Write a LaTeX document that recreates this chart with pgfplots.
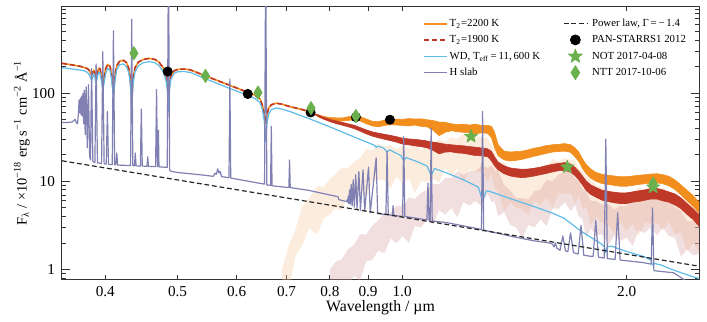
\documentclass[border=0pt]{standalone}
\usepackage{fontspec}
\setmainfont{Liberation Serif}
\usepackage{pgfplots}
\pgfplotsset{compat=1.18}

\definecolor{corange}{RGB}{242,142,30}
\definecolor{cred}{RGB}{192,56,40}
\definecolor{cblue}{RGB}{95,188,232}
\definecolor{cslab}{RGB}{128,128,178}
\definecolor{cgreen}{RGB}{106,176,76}
\definecolor{cpeach}{RGB}{247,196,150}
\definecolor{cpink}{RGB}{214,160,160}

\pgfdeclareplotmark{fstar}{%
 \pgfpathmoveto{\pgfqpointpolar{90}{\pgfplotmarksize}}%
 \pgfpathlineto{\pgfqpointpolar{126}{0.42\pgfplotmarksize}}%
 \pgfpathlineto{\pgfqpointpolar{162}{\pgfplotmarksize}}%
 \pgfpathlineto{\pgfqpointpolar{198}{0.42\pgfplotmarksize}}%
 \pgfpathlineto{\pgfqpointpolar{234}{\pgfplotmarksize}}%
 \pgfpathlineto{\pgfqpointpolar{270}{0.42\pgfplotmarksize}}%
 \pgfpathlineto{\pgfqpointpolar{306}{\pgfplotmarksize}}%
 \pgfpathlineto{\pgfqpointpolar{342}{0.42\pgfplotmarksize}}%
 \pgfpathlineto{\pgfqpointpolar{18}{\pgfplotmarksize}}%
 \pgfpathlineto{\pgfqpointpolar{54}{0.42\pgfplotmarksize}}%
 \pgfpathclose\pgfusepathqfillstroke}
\pgfdeclareplotmark{tdiamond}{%
 \pgfpathmoveto{\pgfqpoint{0pt}{\pgfplotmarksize}}%
 \pgfpathlineto{\pgfqpoint{0.62\pgfplotmarksize}{0pt}}%
 \pgfpathlineto{\pgfqpoint{0pt}{-\pgfplotmarksize}}%
 \pgfpathlineto{\pgfqpoint{-0.62\pgfplotmarksize}{0pt}}%
 \pgfpathclose\pgfusepathqfillstroke}

\pgfplotsset{
  lineleg/.style={legend image code/.code={\draw[##1] (0pt,0pt) -- (11.5pt,0pt);}},
  markleg/.style={legend image code/.code={\draw[##1] plot coordinates {(5.75pt,0pt)};}},
}
\newcommand{\cw}[1]{\makebox[56pt][l]{#1}}
\newcommand{\cv}[1]{\hspace{1.5pt}#1}

\begin{document}
\begin{tikzpicture}
\begin{axis}[
  scale only axis, width=318.5pt, height=136pt,
  xmode=log, ymode=log,
  xmin=0.35, xmax=2.5, ymin=0.78, ymax=950,
  xtick={0.4,0.5,0.6,0.7,0.8,0.9,2},
  xticklabels={0.4,0.5,0.6,0.7,0.8,0.9,2.0},
  extra x ticks={1}, extra x tick labels={1.0},
  minor x tick num=0,
  ytick={1,10,100}, yticklabels={1,10,100},
  minor ytick={0.8,0.9,2,3,4,5,6,7,8,9,20,30,40,50,60,70,80,90,200,300,400,500,600,700,800,900},
  tick align=inside,
  xtick style={/pgfplots/major tick length=2.2pt},
  extra x tick style={/pgfplots/major tick length=4.8pt},
  ytick style={/pgfplots/major tick length=3.8pt},
  minor tick length=2.2pt,
  axis line style={black!80, line width=0.5pt},
  every tick/.style={black!80, line width=0.4pt},
  /pgf/number format/assume math mode=true,
  ticklabel style={font=\fontsize{7.6}{9}\selectfont},
  xlabel={Wavelength / µm},
  ylabel={F\textsubscript{λ} / ×10\textsuperscript{−18} erg s\textsuperscript{−1} cm\textsuperscript{−2} Å\textsuperscript{−1}},
  xlabel style={font=\fontsize{7.9}{9}\selectfont, at={(axis description cs:0.5,-0.105)}, anchor=center},
  ylabel style={font=\fontsize{7.2}{9}\selectfont, at={(axis description cs:-0.063,0.5)}, anchor=center},
  legend columns=2,
  legend cell align=left,
  legend style={at={(axis description cs:0.567,0.964)}, anchor=north west,
    draw=none, fill=none, inner sep=0pt,
    font=\fontsize{5.4}{6}\selectfont,
    row sep=1.3pt,
    nodes={inner sep=0.8pt, text height=3.9pt, text depth=1.2pt}},
  line join=round,
]

% faint spectra (noisy bands)
\addplot[forget plot, draw=none, fill=cpeach, fill opacity=0.32] coordinates {
(0.690,1.0) (0.705,1.86) (0.720,2.9) (0.735,5.25) (0.750,6.4) (0.770,8.8) (0.785,8.7) (0.800,10.7) (0.815,12.2) (0.830,14.4)
(0.846,13.9) (0.862,16.7) (0.878,18.2) (0.895,23.2) (0.912,22.7) (0.929,26.5) (0.947,24.9) (0.965,25.7) (0.983,23.0) (1.002,25.4)
(1.021,23.9) (1.040,26.1) (1.060,22.4) (1.080,25.2) (1.100,26.0) (1.121,29.9) (1.142,28.4) (1.164,31.8) (1.186,30.5) (1.208,34.7)
(1.231,30.7) (1.254,32.6) (1.278,31.2) (1.302,31.3) (1.318,25.5) (1.330,22.5) (1.345,17.0) (1.370,16.5) (1.396,13.0) (1.422,12.7)
(1.449,11.6) (1.476,13.0) (1.504,12.4) (1.533,14.4) (1.562,14.6) (1.591,17.8) (1.621,16.7) (1.652,18.4) (1.683,17.5) (1.705,17.4)
(1.725,14.1) (1.745,13.2) (1.765,11.4) (1.790,11.4) (1.820,9.0) (1.855,8.6) (1.890,7.8) (1.925,7.9) (1.962,6.9) (1.999,7.6)
(2.037,7.4) (2.075,8.6) (2.114,7.8) (2.154,8.4) (2.195,8.3) (2.236,8.5) (2.278,7.2) (2.321,6.9) (2.365,5.7) (2.410,5.6)
(2.455,4.5) (2.500,4.1)
(2.500,1.6) (2.455,2.0) (2.410,1.6) (2.365,2.6) (2.321,2.5) (2.278,3.5) (2.236,2.75) (2.195,3.4) (2.154,3.3) (2.114,3.4)
(2.075,2.4) (2.037,3.3) (1.999,2.8) (1.962,3.4) (1.925,2.55) (1.890,3.2) (1.855,3.4) (1.820,4.0) (1.790,3.2) (1.765,5.1)
(1.745,4.8) (1.725,6.9) (1.705,5.6) (1.683,7.3) (1.652,7.2) (1.621,7.4) (1.591,5.0) (1.562,6.6) (1.533,5.3) (1.504,6.1)
(1.476,4.2) (1.449,4.8) (1.422,5.0) (1.396,5.8) (1.370,4.6) (1.345,7.7) (1.330,8.3) (1.318,12.6) (1.302,10.1) (1.278,12.9)
(1.254,12.8) (1.231,13.6) (1.208,9.8) (1.186,13.8) (1.164,11.7) (1.142,14.0) (1.121,9.7) (1.100,10.7) (1.080,9.9) (1.060,9.9)
(1.040,7.3) (1.021,10.8) (1.002,9.3) (0.983,11.4) (0.965,8.3) (0.947,10.3) (0.929,10.4) (0.912,10.0) (0.895,6.5) (0.878,8.2)
(0.862,6.1) (0.846,6.9) (0.830,4.65) (0.815,5.0) (0.800,4.2) (0.785,3.8) (0.770,2.5) (0.750,2.9) (0.735,1.9) (0.720,1.43)
(0.705,0.6) (0.690,0.42)
};
\addplot[forget plot, draw=none, fill=cpink, fill opacity=0.35] coordinates {
(0.800,1.0) (0.815,1.23) (0.830,1.3) (0.846,1.7) (0.862,1.9) (0.878,2.5) (0.895,2.5) (0.912,3.15) (0.929,3.6) (0.947,4.4)
(0.965,4.4) (0.983,5.25) (1.002,5.3) (1.021,6.6) (1.040,6.3) (1.060,7.4) (1.080,8.0) (1.100,9.4) (1.121,9.2) (1.142,10.9)
(1.164,11.0) (1.186,13.0) (1.208,11.7) (1.231,13.0) (1.254,13.1) (1.278,15.1) (1.302,14.2) (1.318,15.1) (1.330,13.3) (1.345,13.2)
(1.370,9.1) (1.396,7.8) (1.422,6.5) (1.449,6.5) (1.476,6.2) (1.504,7.7) (1.533,8.1) (1.562,10.4) (1.591,10.0) (1.621,12.0)
(1.652,12.6) (1.683,13.3) (1.705,10.7) (1.725,10.2) (1.745,8.1) (1.765,7.8) (1.790,6.0) (1.820,6.0) (1.855,5.4) (1.890,5.5)
(1.925,4.8) (1.962,5.3) (1.999,5.2) (2.037,6.2) (2.075,5.7) (2.114,6.4) (2.154,6.5) (2.195,7.1) (2.236,6.0) (2.278,6.1)
(2.321,5.1) (2.365,4.65) (2.410,3.5) (2.455,3.6) (2.500,3.2)
(2.500,1.5) (2.455,1.45) (2.410,1.7) (2.365,1.4) (2.321,2.3) (2.278,2.4) (2.236,3.0) (2.195,2.45) (2.154,3.0) (2.114,2.6)
(2.075,2.8) (2.037,1.85) (1.999,2.3) (1.962,2.1) (1.925,2.4) (1.890,1.9) (1.855,2.5) (1.820,2.45) (1.790,2.9) (1.765,2.3)
(1.745,3.7) (1.725,4.0) (1.705,5.4) (1.683,4.6) (1.652,5.8) (1.621,4.9) (1.591,4.9) (1.562,3.1) (1.533,3.7) (1.504,3.0)
(1.476,3.2) (1.449,2.25) (1.422,3.0) (1.396,3.2) (1.370,4.5) (1.345,4.0) (1.330,6.0) (1.318,5.8) (1.302,7.2) (1.278,5.2)
(1.254,6.0) (1.231,5.3) (1.208,5.8) (1.186,3.9) (1.164,5.0) (1.142,4.2) (1.121,4.7) (1.100,3.25) (1.080,3.7) (1.060,3.0)
(1.040,3.1) (1.021,2.0) (1.002,2.4) (0.983,2.0) (0.965,2.24) (0.947,1.53) (0.929,1.64) (0.912,1.28) (0.895,1.24) (0.878,0.75)
(0.862,0.85) (0.846,0.66) (0.830,0.66) (0.815,0.43) (0.800,0.47)
};

% T2 = 2200 K model (orange)
\addplot[forget plot, corange, line width=0.8pt] coordinates {
(0.350,218) (0.355,214) (0.360,210) (0.365,206) (0.370,202) (0.374,197) (0.377,193) (0.379,188) (0.381,180) (0.3825,168)
(0.3835,162) (0.3848,172) (0.386,183) (0.3875,172) (0.3889,152) (0.3903,172) (0.392,192) (0.3935,190) (0.3955,155) (0.3970,125)
(0.3985,148) (0.4005,190) (0.403,212) (0.406,200) (0.408,160) (0.4102,100) (0.4122,160) (0.4145,205) (0.418,230) (0.423,236)
(0.427,222) (0.430,192) (0.432,150) (0.4340,84) (0.4360,150) (0.4385,195) (0.443,225) (0.450,242) (0.458,248) (0.466,242)
(0.472,225) (0.478,196) (0.482,162) (0.4845,125) (0.4861,80) (0.4877,125) (0.490,160) (0.495,180) (0.500,186) (0.510,188)
(0.520,184) (0.545,157) (0.580,128) (0.618,104) (0.635,95) (0.645,86) (0.650,72) (0.6535,58) (0.6563,46) (0.659,57)
(0.6625,68) (0.668,74) (0.678,77) (0.690,75) (0.707,70.5) (0.730,66) (0.752,62) (0.770,56)
};
\addplot[forget plot, draw=corange, line width=0.3pt, fill=corange] coordinates {
(0.770,57.5) (0.785,54.5) (0.800,53.0) (0.815,52.6) (0.830,52.3) (0.846,54.0) (0.862,55.5) (0.878,54.5) (0.895,51.0) (0.912,48.0)
(0.929,47.5) (0.947,49.5) (0.965,51.0) (0.983,50.8) (1.002,50.5) (1.021,51.5) (1.040,51.0) (1.060,51.2) (1.080,50.0) (1.100,49.0)
(1.121,47.0) (1.142,46.8) (1.164,45.0) (1.186,44.0) (1.208,44.5) (1.231,43.5) (1.254,44.5) (1.278,43.0) (1.302,43.2) (1.318,42.0)
(1.330,36.0) (1.345,26.0) (1.370,22.0) (1.396,21.5) (1.422,21.8) (1.449,22.0) (1.476,22.8) (1.504,23.8) (1.533,24.5) (1.562,25.5)
(1.591,26.0) (1.621,26.3) (1.652,26.8) (1.683,26.0) (1.705,24.0) (1.725,21.5) (1.745,18.0) (1.765,15.5) (1.790,13.8) (1.820,12.6)
(1.855,12.0) (1.890,11.7) (1.925,11.5) (1.962,11.3) (1.999,11.3) (2.037,11.5) (2.075,11.7) (2.114,11.9) (2.154,12.1) (2.195,12.2)
(2.236,11.9) (2.278,11.4) (2.321,10.4) (2.365,9.1) (2.410,7.9) (2.455,6.9) (2.500,5.8)
(2.500,4.4) (2.455,5.2) (2.410,6.0) (2.365,7.0) (2.321,8.1) (2.278,8.9) (2.236,9.4) (2.195,9.6) (2.154,9.6) (2.114,9.4)
(2.075,9.2) (2.037,9.0) (1.999,8.8) (1.962,8.8) (1.925,9.0) (1.890,9.2) (1.855,9.4) (1.820,10.0) (1.790,10.9) (1.765,12.2)
(1.745,14.0) (1.725,16.8) (1.705,19.0) (1.683,21.3) (1.652,22.0) (1.621,21.8) (1.591,21.5) (1.562,20.8) (1.533,20.0) (1.504,19.3)
(1.476,18.5) (1.449,17.8) (1.422,17.3) (1.396,17.0) (1.370,17.5) (1.345,19.5) (1.330,24.0) (1.318,31.0) (1.302,35.0) (1.278,35.5)
(1.254,34.5) (1.231,35.5) (1.208,36.0) (1.186,36.5) (1.164,37.5) (1.142,36.0) (1.121,33.0) (1.100,38.0) (1.080,41.5) (1.060,42.0)
(1.040,43.5) (1.021,42.5) (1.002,43.0) (0.983,43.5) (0.965,44.0) (0.947,43.0) (0.929,41.5) (0.912,42.5) (0.895,45.0) (0.878,48.5)
(0.862,50.0) (0.846,49.0) (0.830,48.3) (0.815,48.0) (0.800,49.2) (0.785,50.8) (0.770,54.5)
};

% T2 = 1900 K model (red)
\addplot[forget plot, cred, line width=0.8pt, dash pattern=on 2.5pt off 1.5pt] coordinates {
(0.350,218) (0.355,214) (0.360,210) (0.365,206) (0.370,202) (0.374,197) (0.377,193) (0.379,188) (0.381,180) (0.3825,168)
(0.3835,162) (0.3848,172) (0.386,183) (0.3875,172) (0.3889,152) (0.3903,172) (0.392,192) (0.3935,190) (0.3955,155) (0.3970,125)
(0.3985,148) (0.4005,190) (0.403,212) (0.406,200) (0.408,160) (0.4102,100) (0.4122,160) (0.4145,205) (0.418,230) (0.423,236)
(0.427,222) (0.430,192) (0.432,150) (0.4340,84) (0.4360,150) (0.4385,195) (0.443,225) (0.450,242) (0.458,248) (0.466,242)
(0.472,225) (0.478,196) (0.482,162) (0.4845,125) (0.4861,80) (0.4877,125) (0.490,160) (0.495,180) (0.500,186) (0.510,188)
(0.520,184) (0.545,157) (0.580,128) (0.618,104) (0.635,95) (0.645,86) (0.650,72) (0.6535,58) (0.6563,46) (0.659,57)
(0.6625,68) (0.668,74) (0.678,77) (0.690,75) (0.707,70.5) (0.730,66) (0.752,62) (0.770,56)
};
\addplot[forget plot, draw=cred, line width=0.3pt, fill=cred] coordinates {
(0.770,57.0) (0.785,53.3) (0.800,50.5) (0.815,48.5) (0.830,46.8) (0.846,45.0) (0.862,43.3) (0.878,40.9) (0.895,38.4) (0.912,36.4)
(0.929,35.2) (0.947,34.2) (0.965,33.2) (0.983,32.1) (1.002,30.8) (1.021,30.3) (1.040,29.9) (1.060,29.4) (1.080,28.7) (1.100,27.9)
(1.121,27.2) (1.142,26.4) (1.164,26.0) (1.186,25.6) (1.208,25.3) (1.231,24.8) (1.254,24.4) (1.278,23.9) (1.302,23.4) (1.318,21.8)
(1.330,19.0) (1.345,16.5) (1.370,15.0) (1.396,14.2) (1.422,13.9) (1.449,13.7) (1.476,13.8) (1.504,14.1) (1.533,14.5) (1.562,15.1)
(1.591,15.6) (1.621,16.0) (1.652,16.3) (1.683,15.7) (1.705,14.4) (1.725,13.0) (1.745,11.5) (1.765,10.1) (1.790,9.1) (1.820,8.5)
(1.855,7.9) (1.890,7.7) (1.925,7.5) (1.962,7.4) (1.999,7.4) (2.037,7.6) (2.075,7.8) (2.114,8.0) (2.154,8.3) (2.195,8.3)
(2.236,8.0) (2.278,7.6) (2.321,7.2) (2.365,6.5) (2.410,5.6) (2.455,4.9) (2.500,4.2)
(2.500,3.1) (2.455,3.7) (2.410,4.2) (2.365,4.9) (2.321,5.4) (2.278,5.8) (2.236,6.0) (2.195,6.3) (2.154,6.3) (2.114,6.1)
(2.075,5.9) (2.037,5.8) (1.999,5.6) (1.962,5.6) (1.925,5.7) (1.890,5.9) (1.855,6.1) (1.820,6.6) (1.790,7.1) (1.765,7.9)
(1.745,9.1) (1.725,10.4) (1.705,11.6) (1.683,12.7) (1.652,13.3) (1.621,13.2) (1.591,12.8) (1.562,12.3) (1.533,11.9) (1.504,11.5)
(1.476,11.2) (1.449,11.0) (1.422,11.2) (1.396,11.5) (1.370,12.2) (1.345,13.5) (1.330,15.0) (1.318,17.0) (1.302,19.0) (1.278,19.5)
(1.254,19.6) (1.231,20.2) (1.208,20.8) (1.186,21.0) (1.164,21.6) (1.142,21.5) (1.121,20.5) (1.100,22.5) (1.080,24.0) (1.060,24.7)
(1.040,25.3) (1.021,25.9) (1.002,26.4) (0.983,27.8) (0.965,28.9) (0.947,30.0) (0.929,31.2) (0.912,32.6) (0.895,34.6) (0.878,37.2)
(0.862,39.7) (0.846,41.6) (0.830,43.5) (0.815,45.3) (0.800,47.6) (0.785,50.8) (0.770,55.0)
};

% WD model (blue)
\addplot[forget plot, cblue, line width=0.6pt] coordinates {
(0.350,195) (0.355,192) (0.360,189) (0.365,186) (0.370,183) (0.374,180) (0.377,176) (0.379,170) (0.381,160) (0.3825,148)
(0.3835,140) (0.3848,152) (0.386,165) (0.3875,150) (0.3889,128) (0.3903,150) (0.392,172) (0.3935,170) (0.3955,135) (0.3970,108)
(0.3985,128) (0.4005,168) (0.403,192) (0.406,180) (0.408,140) (0.4102,88) (0.4122,140) (0.4145,185) (0.418,210) (0.423,215)
(0.427,200) (0.430,172) (0.432,130) (0.4340,70) (0.4360,130) (0.4385,175) (0.443,205) (0.450,222) (0.458,228) (0.466,222)
(0.472,205) (0.478,178) (0.482,145) (0.4845,110) (0.4861,62) (0.4877,110) (0.490,145) (0.495,168) (0.500,175) (0.510,176)
(0.520,172) (0.545,146) (0.580,118) (0.618,96) (0.635,87) (0.645,78) (0.650,64) (0.6535,48) (0.6563,28) (0.659,46)
(0.6625,58) (0.668,65) (0.678,68) (0.690,66) (0.707,62) (0.750,51.5) (0.800,41.5) (0.850,33.5) (0.900,27.5) (0.918,25.6)
(0.9229,24.3) (0.928,25.1) (0.945,23.8) (0.9546,21.5) (0.962,22.8) (0.980,21) (0.996,19.6) (1.0049,17.2) (1.013,18.6) (1.050,16.6)
(1.080,14.9) (1.0938,11.6) (1.105,14) (1.148,12.4) (1.209,10.4) (1.265,8.6) (1.2818,6.0) (1.296,7.8) (1.310,7.7) (1.410,6.2)
(1.500,5.2) (1.597,4.3) (1.650,3.8) (1.734,2.75) (1.800,2.25) (1.850,1.95) (1.868,1.8) (1.8751,1.55) (1.884,1.8) (1.905,1.85)
(1.940,1.75) (2.000,1.6) (2.110,1.4) (2.155,1.28) (2.1661,1.12) (2.178,1.17) (2.220,1.13) (2.300,1.0) (2.440,0.84) (2.500,0.79)
};

% H slab (lavender)
\addplot[forget plot, cslab, line width=0.6pt] coordinates {
(0.350,46.5) (0.357,46.6) (0.361,47.2) (0.3632,49) (0.3645,50.5) (0.3658,46.5) (0.3672,45)
(0.3682,58) (0.3690,84) (0.3697,60) (0.3705,88) (0.3712,57) (0.3720,93) (0.3727,55) (0.3734,100) (0.3742,45) (0.3750,108)
(0.3760,34) (0.3771,118) (0.3784,24) (0.3798,125) (0.3812,19) (0.3822,17.5) (0.3835,190) (0.3850,16.8) (0.3874,16.4) (0.3889,215)
(0.3905,16.2) (0.3955,15.9) (0.3970,296) (0.3986,15.8) (0.4012,15.7) (0.4026,62) (0.4040,15.6) (0.4087,15.5) (0.4102,510) (0.4117,15.4)
(0.4132,15.4) (0.4144,21) (0.4156,15.3) (0.4325,15.1) (0.4340,690) (0.4355,15.1) (0.4377,15) (0.4388,21) (0.4399,15) (0.4458,14.9)
(0.4471,66) (0.4484,14.9) (0.4550,14.8) (0.4560,19) (0.4570,14.8) (0.4672,14.7) (0.4686,110) (0.4699,14.7) (0.4706,14.7) (0.4713,38)
(0.4721,14.6) (0.4843,14.4) (0.4861,4000) (0.4879,13.5) (0.4900,13) (0.500,12.6) (0.540,11.8) (0.558,11.4) (0.5615,12.4) (0.5635,12.0)
(0.5660,13.8) (0.5682,12.4) (0.5700,13.0) (0.5730,11.3) (0.5860,11.0) (0.5876,145) (0.5892,10.9) (0.6400,9.6) (0.6540,9.3) (0.6563,4000)
(0.6586,9.1) (0.6663,9.0) (0.6678,42) (0.6693,8.9) (0.7050,8.5) (0.7065,17.5) (0.7080,8.5) (0.7500,7.9) (0.8000,7.0) (0.8204,6.7)
(0.8225,6.2) (0.8420,5.9) (0.8440,6.2) (0.8455,5.8) (0.8467,6.8) (0.8482,5.6) (0.8502,8.0) (0.8522,5.5) (0.8545,9.2) (0.8570,5.3)
(0.8598,10.4) (0.8628,5.1) (0.8665,11.9) (0.8700,4.9) (0.8750,12.9) (0.8792,4.7) (0.8863,13.5) (0.8908,4.6) (0.9015,14.5) (0.9062,4.4)
(0.9229,18.4) (0.9272,4.3) (0.9512,4.2) (0.9546,22) (0.9580,4.2) (0.9702,4.1) (0.9724,5.3) (0.9746,4.1) (1.0015,4.0) (1.0049,32)
(1.0083,4.0) (1.0795,3.65) (1.0830,9.6) (1.0865,3.62) (1.0905,3.6) (1.0938,40) (1.0972,3.55) (1.148,3.4) (1.2775,2.85) (1.2818,62)
(1.2861,2.8) (1.410,2.35) (1.500,2.12) (1.575,2.0) (1.590,1.95) (1.598,1.8) (1.605,2.0) (1.612,1.75) (1.628,1.65) (1.642,2.4)
(1.656,1.62) (1.668,1.6) (1.682,2.6) (1.697,1.55) (1.722,1.5) (1.737,3.15) (1.752,1.45) (1.803,1.4) (1.818,3.6) (1.833,1.38)
(1.866,1.35) (1.8751,30) (1.884,1.33) (1.930,1.3) (1.945,4.4) (1.960,1.28) (2.100,1.2) (2.157,1.15) (2.1661,5.0) (2.175,0.97)
(2.250,0.94) (2.310,0.92) (2.340,0.86) (2.370,0.80) (2.400,0.74) (2.500,0.70)
};

% power law
\addplot[forget plot, black!85, line width=0.6pt, dash pattern=on 2.4pt off 1.4pt] coordinates {(0.35,17.1) (2.5,1.09)};

% photometry
\addplot[forget plot, only marks, mark=*, mark size=2.3pt, black] coordinates {
(0.485,176) (0.621,98) (0.754,60.5) (0.867,53.5) (0.963,50)};
\addplot[forget plot, only marks, mark=fstar, mark size=3.4pt, cgreen] coordinates {
(1.237,32.3) (1.665,14.5) (2.17,8.6)};
\addplot[forget plot, only marks, mark=tdiamond, mark size=3.3pt, cgreen] coordinates {
(0.437,284) (0.545,157) (0.641,101.6) (0.755,67.6) (0.867,55) (2.17,9.4)};

% legend
\addlegendimage{lineleg, draw=corange, line width=0.75pt}
\addlegendentry{\cw{T\textsubscript{2}=2200 K}}
\addlegendimage{lineleg, draw=black!85, line width=0.6pt, dash pattern=on 2.4pt off 1.4pt}
\addlegendentry{\cv{Power law, Γ\,=\,−\,1.4}}
\addlegendimage{lineleg, draw=cred, line width=0.75pt, dash pattern=on 2.5pt off 1.5pt}
\addlegendentry{\cw{T\textsubscript{2}=1900 K}}
\addlegendimage{markleg, only marks, mark=*, mark size=2.5pt, black}
\addlegendentry{\cv{PAN-STARRS1 2012}}
\addlegendimage{lineleg, draw=cblue, line width=0.75pt}
\addlegendentry{\cw{WD, T\textsubscript{eff}\,=\,11,\,600 K}}
\addlegendimage{markleg, only marks, mark=fstar, mark size=3.6pt, cgreen}
\addlegendentry{\cv{NOT 2017-04-08}}
\addlegendimage{lineleg, draw=cslab, line width=0.75pt}
\addlegendentry{\cw{H slab}}
\addlegendimage{markleg, only marks, mark=tdiamond, mark size=3.5pt, cgreen}
\addlegendentry{\cv{NTT 2017-10-06}}
\end{axis}
\path[use as bounding box] ([shift={(-31pt,-18.35pt)}]current axis.south west) rectangle ([shift={(4pt,3.5pt)}]current axis.north east);
\end{tikzpicture}
\end{document}
